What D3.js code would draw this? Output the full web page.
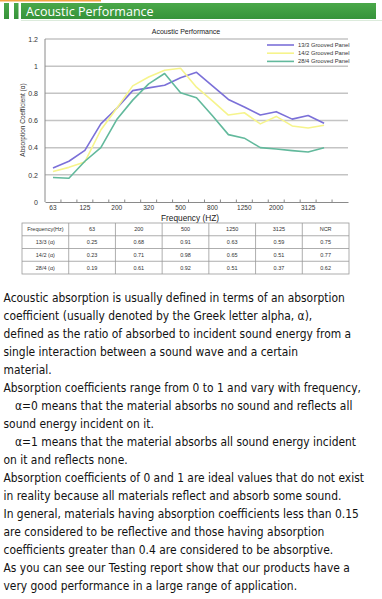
<!DOCTYPE html>
<meta charset="utf-8">
<style>
body { margin:0; background:#fff; }
svg text { font-family: "Liberation Sans", Arial, sans-serif; fill:#333; }
.grid line { stroke:#c4c4c4; stroke-width:1.5; }
.series { fill:none; stroke-width:1.6; stroke-linejoin:round; }
.body-text { font-family: "DejaVu Sans", sans-serif !important; font-size:13px; fill:#111 !important; }
</style>
<body>
<script src="https://d3js.org/d3.v7.min.js"></script>
<script>
// categories on the frequency axis (only every other one is labelled)
var freqs = ["63","100","125","160","200","250","320","400","500","630","800","1000","1250","1600","2000","2500","3125","4000","5000"];
var yTicks = [0, 0.2, 0.4, 0.6, 0.8, 1, 1.2];

var panel13 = [0.25,0.30,0.38,0.575,0.69,0.82,0.84,0.86,0.915,0.955,0.855,0.755,0.70,0.64,0.665,0.61,0.637,0.58];
var panel14 = [0.225,0.255,0.295,0.53,0.69,0.855,0.92,0.97,0.985,0.845,0.745,0.64,0.657,0.575,0.63,0.56,0.545,0.565];
var panel28 = [0.18,0.175,0.30,0.40,0.607,0.75,0.87,0.946,0.805,0.768,0.635,0.496,0.47,0.40,0.39,0.378,0.368,0.40];

var seriesNames = ["13/3 Grooved Panel","14/2 Grooved Panel","28/4 Grooved Panel"];
var seriesColors = ["#7b70d8","#f6f48c","#62b99c"];

var tableHead = ["Frequency(Hz)","63","200","500","1250","3125","NCR"];
var tableRows = [
  ["13/3 (α)","0.25","0.68","0.91","0.63","0.59","0.75"],
  ["14/2 (α)","0.23","0.71","0.98","0.65","0.51","0.77"],
  ["28/4 (α)","0.19","0.61","0.92","0.51","0.37","0.62"]
];

var paragraph = [
  "Acoustic absorption is usually defined in terms of an absorption",
  "coefficient (usually denoted by the Greek letter alpha, α),",
  "defined as the ratio of absorbed to incident sound energy from a",
  "single interaction between a sound wave and a certain",
  "material.",
  "Absorption coefficients range from 0 to 1 and vary with frequency,",
  "α=0 means that the material absorbs no sound and reflects all",
  "sound energy incident on it.",
  "α=1 means that the material absorbs all sound energy incident",
  "on it and reflects none.",
  "Absorption coefficients of 0 and 1 are ideal values that do not exist",
  "in reality because all materials reflect and absorb some sound.",
  "In general, materials having absorption coefficients less than 0.15",
  "are considered to be reflective and those having absorption",
  "coefficients greater than 0.4 are considered to be absorptive.",
  "As you can see our Testing report show that our products have a",
  "very good performance in a large range of application."
];
var indented = [6, 8];

var svg = d3.select("body").append("svg")
  .attr("width", 382).attr("height", 599);

// ---- header banner
svg.append("rect").attr("x",0).attr("y",0).attr("width",101).attr("height",1.5).attr("fill","#f2a541");
var grad = svg.append("defs").append("linearGradient").attr("id","hg").attr("x1",0).attr("x2",0).attr("y1",0).attr("y2",1);
grad.append("stop").attr("offset","0").attr("stop-color","#4aa84a");
grad.append("stop").attr("offset","1").attr("stop-color","#36933a");
svg.append("rect").attr("x",4).attr("y",3).attr("width",5).attr("height",16).attr("fill","url(#hg)");
svg.append("rect").attr("x",14).attr("y",3).attr("width",4.5).attr("height",16).attr("fill","url(#hg)");
svg.append("rect").attr("x",21).attr("y",3).attr("width",355).attr("height",16).attr("fill","url(#hg)");
svg.append("line").attr("x1",21).attr("x2",382).attr("y1",20.5).attr("y2",20.5).attr("stroke","#dcebdc");
svg.append("text").attr("x",26).attr("y",15.5)
  .style("font-size","12.5px").style("fill","#fff").style("font-family","'Open Sans', sans-serif")
  .text("Acoustic Performance");

// ---- chart
var x = d3.scaleBand().domain(freqs).range([45, 348]);
var y = d3.scaleLinear().domain([0, 1.2]).range([202, 39]);

svg.append("g").attr("class","grid")
  .selectAll("line").data(yTicks.filter(function(d){ return d > 0; })).join("line")
  .attr("x1",45).attr("x2",348)
  .attr("y1",function(d){ return y(d); }).attr("y2",function(d){ return y(d); });

svg.append("line").attr("x1",45).attr("x2",45).attr("y1",y(1.2)).attr("y2",y(0))
  .attr("stroke","#8a8a8a").attr("stroke-width",1);

var yAxis = svg.append("g").attr("transform","translate(45,0)")
  .call(d3.axisLeft(y).tickValues(yTicks).tickSize(0).tickPadding(7)
    .tickFormat(function(d){ return d3.format("")(+d.toFixed(1)); }));
yAxis.select(".domain").remove();
yAxis.selectAll("text").style("font-size","7px").style("fill","#333");

var xAxis = svg.append("g").attr("transform","translate(0,202)")
  .call(d3.axisBottom(x).tickSize(0).tickPadding(3.5)
    .tickFormat(function(d, i){ return (i % 2 === 0 && i < 17) ? d : ""; }));
xAxis.select(".domain").attr("stroke","#8a8a8a");
xAxis.selectAll("text").style("font-size","6.5px").style("fill","#333");
// category boundary ticks
xAxis.selectAll(".bt").data(freqs.slice(1)).join("line").attr("class","bt")
  .attr("x1",function(d){ return x(d); }).attr("x2",function(d){ return x(d); })
  .attr("y1",0).attr("y2",-2.5).attr("stroke","#8a8a8a");

svg.append("text").attr("x",186).attr("y",34).attr("text-anchor","middle")
  .style("font-size","7px").style("fill","#222").text("Acoustic Performance");
svg.append("text").attr("x",190).attr("y",220.5).attr("text-anchor","middle")
  .style("font-size","8.3px").style("fill","#222").text("Frequency (HZ)");
svg.append("text").attr("transform","translate(25,120) rotate(-90)").attr("text-anchor","middle")
  .style("font-size","6.5px").style("fill","#333").text("Absorption Coefficient (α)");

var line = d3.line()
  .x(function(d, i){ return x(freqs[i]) + x.bandwidth() / 2; })
  .y(function(d){ return y(d); });

[panel13, panel14, panel28].forEach(function(s, k){
  svg.append("path").attr("class","series").attr("stroke", seriesColors[k]).attr("d", line(s));
});

// legend
var lg = svg.append("g");
seriesNames.forEach(function(n, k){
  var ly = 45 + k * 8.2;
  lg.append("line").attr("x1",267).attr("x2",294).attr("y1",ly).attr("y2",ly)
    .attr("stroke",seriesColors[k]).attr("stroke-width",1.6);
  lg.append("text").attr("x",298).attr("y",ly + 2).style("font-size","5.8px").style("fill","#333").text(n);
});

// ---- table
var tx = d3.scaleBand().domain(d3.range(7)).range([22, 349]);
var ty = d3.scaleBand().domain(d3.range(4)).range([223, 274]);
var allRows = [tableHead].concat(tableRows);
var tg = svg.append("g");
tg.append("rect").attr("x",22).attr("y",223).attr("width",327).attr("height",51)
  .attr("fill","none").attr("stroke","#999").attr("stroke-width",0.8);
tg.selectAll(".vl").data(d3.range(1,7)).join("line").attr("class","vl")
  .attr("x1",function(d){ return tx(d); }).attr("x2",function(d){ return tx(d); })
  .attr("y1",223).attr("y2",274).attr("stroke","#999").attr("stroke-width",0.8);
tg.selectAll(".hl").data(d3.range(1,4)).join("line").attr("class","hl")
  .attr("x1",22).attr("x2",349)
  .attr("y1",function(d){ return ty(d); }).attr("y2",function(d){ return ty(d); })
  .attr("stroke","#999").attr("stroke-width",0.8);
allRows.forEach(function(r, ri){
  r.forEach(function(c, ci){
    tg.append("text").attr("x", tx(ci) + tx.bandwidth()/2).attr("y", ty(ri) + ty.bandwidth()/2 + 2)
      .attr("text-anchor","middle").style("font-size","5.5px").style("fill","#333").text(c);
  });
});

// ---- paragraph (Tahoma-like: DejaVu Sans squeezed horizontally to the measured width)
var pg = svg.append("g");
var ptxt = pg.selectAll("text").data(paragraph).join("text")
  .attr("class","body-text")
  .attr("x", 0).attr("y", 0)
  .text(function(d){ return d; });
var ratio = 341.5 / ptxt.nodes()[0].getComputedTextLength();
ptxt.attr("transform", function(d, i){
  var px = indented.indexOf(i) >= 0 ? 15 : 3.5;
  return "translate(" + px + "," + (301.5 + i * 18) + ") scale(" + ratio + ",1)";
});
</script>
